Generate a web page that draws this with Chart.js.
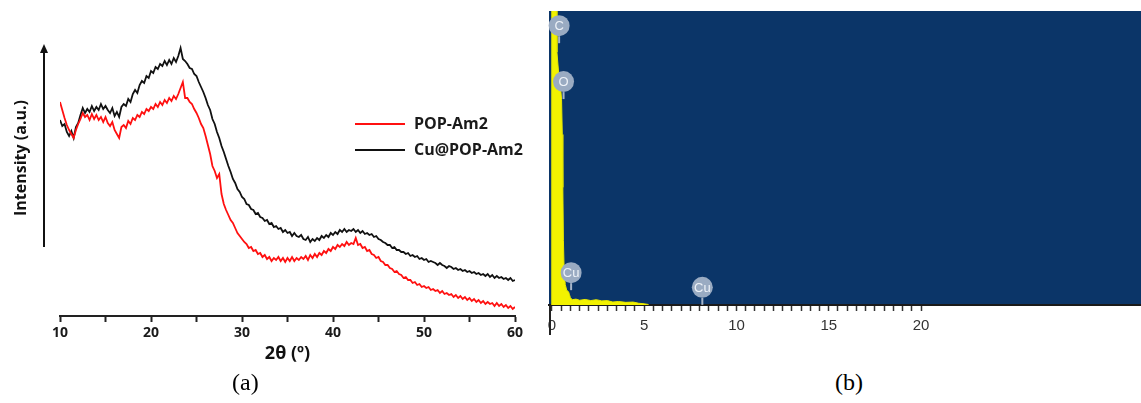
<!DOCTYPE html>
<html>
<head>
<meta charset="utf-8">
<script src="https://cdn.jsdelivr.net/npm/chart.js@4.4.1/dist/chart.umd.min.js"></script>
<style>
  body { margin: 0; background: #fff; }
  #wrap { position: relative; width: 1141px; height: 403px; overflow: hidden; }
  #xrdBox { position: absolute; left: 0; top: 0; width: 545px; height: 370px; }
  #edsBox { position: absolute; left: 540px; top: 0; width: 601px; height: 345px; }
  .cap { position: absolute; top: 369px; font-family: "Liberation Serif", serif; font-size: 24px; color: #000; }
</style>
</head>
<body>
<div id="wrap">
  <div id="xrdBox"><canvas id="xrdChart" width="545" height="370"></canvas></div>
  <div id="edsBox"><canvas id="edsChart" width="601" height="345"></canvas></div>
  <div class="cap" style="left:232px">(a)</div>
  <div class="cap" style="left:835px">(b)</div>
</div>
<script>
// XRD patterns, sampled every 0.25 degree from 10 to 60 (2 theta)
const angleStart = 10;
const angleStep = 0.25;

const popAm2 = [
  214, 206, 198, 191, 186, 182, 178, 186, 192, 197, 203, 199, 201, 196, 202, 197,
  201, 196, 199, 194, 199, 193, 190, 194, 186, 182, 178, 189, 191, 188, 195, 192,
  198, 196, 201, 199, 204, 202, 207, 205, 209, 207, 212, 209, 214, 211, 216, 213,
  218, 215, 220, 217, 222, 228, 234, 218, 218, 214, 212, 207, 203, 198, 192, 188,
  180, 171, 162, 150, 145, 138, 142, 122, 112, 106, 101, 96, 93, 88, 83, 80,
  77, 74, 72, 68, 69, 65, 66, 62, 63, 59, 61, 57, 59, 55, 58, 56,
  59, 55, 58, 54, 58, 55, 59, 55, 58, 56, 59, 57, 60, 56, 61, 58,
  62, 59, 63, 61, 65, 63, 67, 65, 69, 67, 71, 69, 72, 70, 74, 71,
  73, 72, 78, 71, 72, 68, 69, 65, 66, 62, 61, 58, 59, 55, 54, 51,
  51, 48, 47, 44, 45, 42, 41, 38, 39, 36, 36, 33, 34, 31, 32, 29,
  30, 28, 29, 26, 27, 25, 26, 23, 25, 22, 23, 21, 22, 19, 21, 18,
  20, 17, 19, 16, 18, 15, 17, 14, 16, 13, 15, 12, 14, 12, 13, 10,
  13, 10, 12, 9, 11, 8, 10, 7, 9
];

const cuPopAm2 = [
  196, 190, 192, 184, 180, 185, 178, 189, 193, 201, 208, 203, 207, 204, 210, 205,
  209, 206, 212, 207, 210, 206, 203, 208, 200, 204, 199, 209, 212, 210, 217, 214,
  222, 226, 223, 231, 235, 233, 240, 238, 245, 243, 249, 247, 252, 250, 255, 251,
  256, 252, 258, 254, 260, 268, 257, 255, 252, 248, 247, 242, 240, 234, 229, 224,
  218, 211, 206, 197, 192, 184, 178, 170, 164, 157, 150, 144, 137, 133, 127, 124,
  119, 117, 112, 111, 107, 106, 102, 103, 99, 98, 95, 96, 92, 93, 89, 90,
  87, 88, 84, 86, 83, 84, 80, 83, 80, 79, 81, 77, 76, 79, 74, 77,
  75, 78, 76, 80, 78, 81, 79, 83, 81, 84, 82, 86, 84, 87, 84, 86,
  85, 87, 84, 86, 83, 85, 82, 83, 81, 82, 79, 80, 77, 76, 74, 73,
  71, 71, 68, 69, 66, 66, 64, 64, 62, 63, 60, 61, 59, 60, 57, 58,
  56, 57, 54, 55, 54, 53, 51, 53, 51, 50, 48, 50, 49, 47, 48, 46,
  47, 45, 46, 44, 45, 43, 44, 42, 43, 41, 42, 40, 42, 39, 41, 38,
  40, 38, 39, 37, 38, 36, 38, 35, 36
];

const xrdTickLabels = [10, 20, 30, 40, 50, 60];

// EDS spectrum (energy in keV, counts in % of full scale; -1 = no signal)
const edsEnergy = [
  -0.16, -0.05, -0.02, 0.0, 0.1, 0.22, 0.27, 0.4, 0.48, 0.52, 0.56, 0.59, 0.62, 0.66,
  0.72, 0.8, 0.9, 0.95, 1.0, 1.1, 1.3, 1.5, 1.8, 2.1, 2.4, 2.7, 3.0, 3.3, 3.6,
  4.0, 4.4, 4.7, 5.0, 5.2, 5.4, 31.92
];
const edsCounts = [
  -1, -1, 100, 125, 130, 130, 86, 76, 73, 70, 58, 40, 22, 12,
  7, 5, 4.5, 3.5, 2.5, 1.8, 2.0, 1.6, 1.9, 1.5, 1.8, 1.4, 1.5, 1.0, 1.2,
  0.9, 1.0, 0.6, 0.4, 0.2, -1, -1
];
const edsTickLabels = [0, 5, 10, 15, 20];

const edsPeakNames = ['C', 'O', 'Cu', 'Cu'];
const edsPeakEnergy = [0.28, 0.52, 0.93, 8.04];
const edsPeakLevel = [95, 76, 11, 6];

const angles = popAm2.map((v, i) => angleStart + i * angleStep);

const xrdDecor = {
  id: 'xrdDecor',
  afterDraw(chart) {
    const { ctx, chartArea } = chart;
    ctx.save();
    // intensity arrow
    const ax = chartArea.left - 16;
    ctx.strokeStyle = '#111';
    ctx.fillStyle = '#111';
    ctx.lineWidth = 2;
    ctx.beginPath();
    ctx.moveTo(ax, 247);
    ctx.lineTo(ax, 50);
    ctx.stroke();
    ctx.beginPath();
    ctx.moveTo(ax, 44);
    ctx.lineTo(ax - 4, 53);
    ctx.lineTo(ax + 4, 53);
    ctx.closePath();
    ctx.fill();
    // legend
    ctx.font = 'bold 16px "Open Sans"';
    ctx.textBaseline = 'middle';
    chart.data.datasets.forEach((ds, i) => {
      const ly = 124 + i * 26;
      ctx.strokeStyle = ds.borderColor;
      ctx.lineWidth = 2;
      ctx.beginPath();
      ctx.moveTo(355, ly);
      ctx.lineTo(405, ly);
      ctx.stroke();
      ctx.fillStyle = '#1a1a1a';
      ctx.fillText(ds.label, 414, ly);
    });
    ctx.restore();
  }
};

new Chart(document.getElementById('xrdChart'), {
  type: 'line',
  data: {
    datasets: [
      {
        label: 'POP-Am2',
        data: angles.map((a, i) => ({ x: a, y: popAm2[i] })),
        borderColor: '#ff1010',
        borderWidth: 1.8,
        pointRadius: 0,
        tension: 0
      },
      {
        label: 'Cu@POP-Am2',
        data: angles.map((a, i) => ({ x: a, y: cuPopAm2[i] })),
        borderColor: '#111111',
        borderWidth: 1.8,
        pointRadius: 0,
        tension: 0
      }
    ]
  },
  options: {
    responsive: false,
    animation: false,
    layout: { padding: { left: 0, right: 30, top: 0, bottom: 0 } },
    plugins: {
      legend: { display: false },
      tooltip: { enabled: false }
    },
    scales: {
      x: {
        type: 'linear',
        min: 10,
        max: 60,
        afterFit(scale) { scale.height = 54; },
        grid: { drawOnChartArea: false, tickLength: 6, tickColor: '#222', tickWidth: 2 },
        border: { color: '#222', width: 2 },
        ticks: {
          stepSize: 5,
          autoSkip: false,
          maxRotation: 0,
          padding: 3,
          color: '#1a1a1a',
          font: { family: 'Open Sans', weight: 'bold', size: 14 },
          callback: (v) => xrdTickLabels.includes(v) ? String(v) : ''
        },
        title: {
          display: true,
          text: '2θ (º)',
          color: '#111',
          padding: { top: 0, bottom: 5 },
          font: { family: 'Open Sans', weight: 'bold', size: 18 }
        }
      },
      y: {
        min: 0,
        max: 316,
        afterFit(scale) { scale.width = 60; },
        grid: { display: false },
        border: { display: false },
        ticks: { display: false },
        title: {
          display: true,
          text: 'Intensity (a.u.)',
          color: '#111',
          padding: { top: 12, bottom: 0 },
          font: { family: 'Open Sans', weight: 'bold', size: 16 }
        }
      }
    }
  },
  plugins: [xrdDecor]
});

const edsDecor = {
  id: 'edsDecor',
  beforeDraw(chart) {
    const { ctx, chartArea } = chart;
    ctx.save();
    ctx.fillStyle = '#0b3568';
    ctx.fillRect(chartArea.left, chartArea.top, chartArea.right - chartArea.left, chartArea.bottom - chartArea.top);
    ctx.restore();
  },
  afterDraw(chart) {
    const { ctx, chartArea, scales } = chart;
    ctx.save();
    ctx.strokeStyle = '#222';
    ctx.lineWidth = 2;
    ctx.beginPath();
    ctx.moveTo(chartArea.left + 1, chartArea.bottom);
    ctx.lineTo(chartArea.left + 1, chartArea.bottom + 30);
    ctx.stroke();
    edsPeakNames.forEach((name, i) => {
      const px = scales.x.getPixelForValue(edsPeakEnergy[i]) + 2;
      const py = scales.y.getPixelForValue(edsPeakLevel[i]);
      const r = 10.5;
      ctx.strokeStyle = '#a7b5c8';
      ctx.lineWidth = 2;
      ctx.beginPath();
      ctx.moveTo(px, py + r);
      ctx.lineTo(px, py + r + 7);
      ctx.stroke();
      ctx.fillStyle = '#9aabc2';
      ctx.beginPath();
      ctx.arc(px, py, r, 0, Math.PI * 2);
      ctx.fill();
      ctx.fillStyle = '#eef2f8';
      ctx.font = '13px "Liberation Sans"';
      ctx.textAlign = 'center';
      ctx.textBaseline = 'middle';
      ctx.fillText(name, px, py + 1);
    });
    ctx.restore();
  }
};

new Chart(document.getElementById('edsChart'), {
  type: 'line',
  data: {
    datasets: [{
      label: 'EDS',
      data: edsEnergy.map((e, i) => ({ x: e, y: edsCounts[i] })),
      borderColor: '#e8e800',
      backgroundColor: '#f2f200',
      borderWidth: 1,
      fill: 'origin',
      pointRadius: 0,
      tension: 0
    }]
  },
  options: {
    responsive: false,
    animation: false,
    layout: { padding: { left: 9, right: 0, top: 11, bottom: 0 } },
    plugins: {
      legend: { display: false },
      tooltip: { enabled: false }
    },
    scales: {
      x: {
        type: 'linear',
        min: -0.16,
        max: 31.92,
        afterFit(scale) { scale.height = 40; },
        afterBuildTicks(scale) {
          const t = [];
          for (let v = 0; v <= edsTickLabels[edsTickLabels.length - 1]; v += 0.5) t.push({ value: v });
          scale.ticks = t;
        },
        grid: { drawOnChartArea: false, tickLength: 6, tickColor: '#333', tickWidth: 1.5 },
        border: { color: '#1a1a1a', width: 2 },
        ticks: {
          autoSkip: false,
          maxRotation: 0,
          padding: 6,
          color: '#333',
          font: { family: 'Liberation Sans', size: 15 },
          callback: (v) => edsTickLabels.includes(v) ? String(v) : ''
        }
      },
      y: {
        min: 0,
        max: 100,
        display: false
      }
    }
  },
  plugins: [edsDecor]
});
</script>
</body>
</html>
